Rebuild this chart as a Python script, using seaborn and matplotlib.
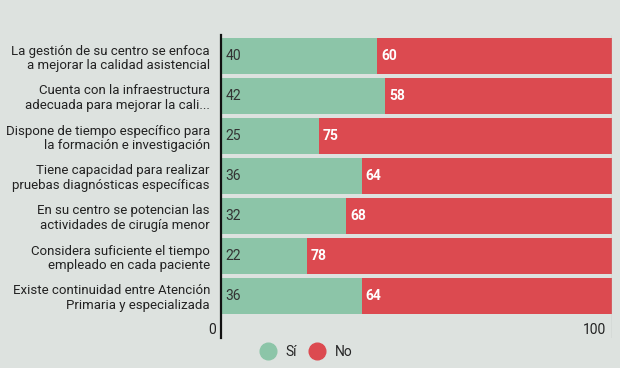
import pandas as pd
import matplotlib.pyplot as plt
import seaborn as sns
from matplotlib.lines import Line2D

categorias = [
    "La gestión de su centro se enfoca\na mejorar la calidad asistencial",
    "Cuenta con la infraestructura\nadecuada para mejorar la cali...",
    "Dispone de tiempo específico para\nla formación e investigación",
    "Tiene capacidad para realizar\npruebas diagnósticas específicas",
    "En su centro se potencian las\nactividades de cirugía menor",
    "Considera suficiente el tiempo\nempleado en cada paciente",
    "Existe continuidad entre Atención\nPrimaria y especializada",
]
si = [40, 42, 25, 36, 32, 22, 36]
no = [60, 58, 75, 64, 68, 78, 64]

BG = '#dde2df'
VERDE = '#8cc5a8'
ROJO = '#dc4a50'

sns.set_theme(style="white")
plt.rcParams['font.family'] = ['Roboto', 'DejaVu Sans']

df = pd.DataFrame({'cat': categorias, 'si': si, 'no': no})
df['total'] = df['si'] + df['no']

fig = plt.figure(figsize=(6.2, 3.68), dpi=100)
fig.patch.set_facecolor(BG)
ax = fig.add_axes([221 / 620, 1 - 338 / 368, (612 - 221) / 620, 303 / 368])
ax.set_facecolor(BG)

sns.barplot(data=df, y='cat', x='total', color=ROJO, orient='h', width=0.9,
            saturation=1, linewidth=0, ax=ax)
sns.barplot(data=df, y='cat', x='si', color=VERDE, orient='h', width=0.9,
            saturation=1, linewidth=0, ax=ax)

ax.set_xlim(0, 100)
ax.set_ylim(7.05, -0.525)
ax.set_xlabel('')
ax.set_ylabel('')
ax.set_xticks([])
ax.tick_params(axis='y', length=0, pad=8, labelsize=9.5, labelcolor='#222222')
for s in ['top', 'right', 'bottom']:
    ax.spines[s].set_visible(False)
ax.spines['left'].set_color('#111111')
ax.spines['left'].set_linewidth(1.6)
ax.axvline(100, color='#b8bcba', lw=1)

for i, (s, n) in enumerate(zip(si, no)):
    ax.text(1.2, i, str(s), va='center', ha='left', fontsize=10, color='#333333')
    ax.text(s + 1.0, i, str(n), va='center', ha='left', fontsize=10,
            color='white', fontweight='bold')

ax.text(-1.2, 6.85, '0', ha='right', va='center', fontsize=10, color='#222222')
ax.text(98.5, 6.85, '100', ha='right', va='center', fontsize=10, color='#222222')

handles = [
    Line2D([], [], marker='o', ls='', markersize=12, color=VERDE, label='Sí'),
    Line2D([], [], marker='o', ls='', markersize=12, color=ROJO, label='No'),
]
fig.legend(handles=handles, loc='center', bbox_to_anchor=(306 / 620, 1 - 352 / 368),
           ncol=2, frameon=False, fontsize=10, handletextpad=0.6,
           columnspacing=0.8, handlelength=1.3)

fig.savefig('out.png', dpi=100, facecolor=BG)
